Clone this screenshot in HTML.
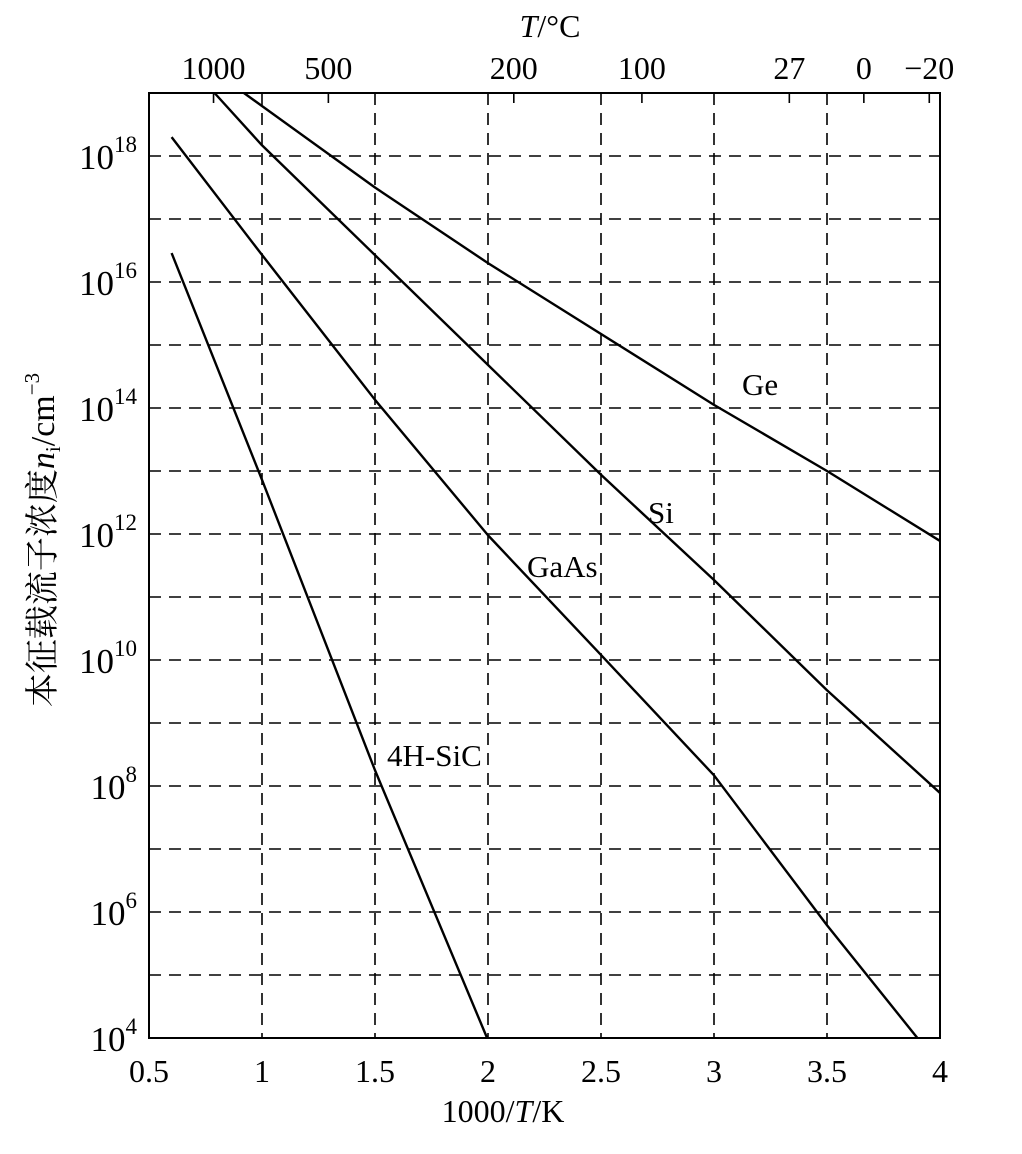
<!DOCTYPE html>
<html><head><meta charset="utf-8"><style>
html,body{margin:0;padding:0;background:#fff;}
svg{display:block;font-family:"Liberation Serif","Noto Serif CJK SC",serif;}
</style></head><body>
<svg id="chart" width="1022" height="1154" viewBox="0 0 1022 1154" xmlns="http://www.w3.org/2000/svg">
<g id="grid"></g>
<g id="series"></g>
<g id="axes"></g>
<text x="550" y="37" font-size="32" text-anchor="middle"><tspan font-style="italic">T</tspan>/°C</text>
<text x="503" y="1122" font-size="32" text-anchor="middle">1000/<tspan font-style="italic">T</tspan>/K</text>
<text transform="translate(54,540) rotate(-90)" font-size="34" text-anchor="middle">本征载流子浓度<tspan font-style="italic">n</tspan><tspan font-size="21" dy="6">i</tspan><tspan dy="-6">/cm</tspan><tspan font-size="21" dy="-15">−3</tspan></text>
<text x="742" y="395" font-size="31">Ge</text>
<text x="648" y="523" font-size="31">Si</text>
<text x="527" y="577" font-size="31">GaAs</text>
<text x="387" y="766" font-size="31">4H-SiC</text>
</svg>
<script>
const seriesNames = ["Ge","Si","GaAs","4H-SiC"];
const seriesX = [[0.92,1.5,2.0,3.0,3.5,4.0],[0.79,1.0,2.5,3.0,3.5,4.0],[0.60,1.0,1.5,2.0,2.5,3.0,3.5,3.90],[0.60,1.0,1.5,1.996]];
const seriesLogN = [[19,17.5,16.3,14.05,13.0,11.89],[19,18.17,12.94,11.27,9.52,7.89],[18.3,16.43,14.13,11.98,10.08,8.17,5.79,4],[16.46,12.86,8.25,4]];
const xTicks = [0.5,1,1.5,2,2.5,3,3.5,4];
const xTickLabels = ["0.5","1","1.5","2","2.5","3","3.5","4"];
const yTicks = [4,6,8,10,12,14,16,18];
const topTemps = [1000,500,200,100,27,0,-20];
const topLabels = ["1000","500","200","100","27","0","−20"];

const L=149,R=940,T=93,B=1038;
const xs = v => L + (v-0.5)/(4-0.5)*(R-L);
const ys = v => B - (v-4)/(19-4)*(B-T);
const NS="http://www.w3.org/2000/svg";
function mk(tag,attrs,parent){const e=document.createElementNS(NS,tag);for(const k in attrs)e.setAttribute(k,attrs[k]);parent.appendChild(e);return e;}
const grid=document.getElementById('grid'), axes=document.getElementById('axes'), ser=document.getElementById('series');
for(let i=1;i<xTicks.length-1;i++){
  const l=mk('line',{x1:xs(xTicks[i]),x2:xs(xTicks[i]),y1:T,y2:B,stroke:'#000','stroke-width':1.6,'stroke-dasharray':'12 8'},grid);
  
  
}
for(let d=5;d<19;d++){
  const l=mk('line',{x1:L,x2:R,y1:ys(d),y2:ys(d),stroke:'#000','stroke-width':1.6,'stroke-dasharray':'12 8'},grid);
  
  
}
const frame=mk('rect',{x:L,y:T,width:R-L,height:B-T,fill:'none',stroke:'#000','stroke-width':2},axes);


xTicks.forEach((v,i)=>{
  const t=mk('text',{x:xs(v),y:B+44,'font-size':32,'text-anchor':'middle'},axes);
  t.textContent=xTickLabels[i];
  
  
});
yTicks.forEach(v=>{
  const t=mk('text',{x:L-12,y:ys(v)+13,'font-size':35,'text-anchor':'end'},axes);
  t.innerHTML='10<tspan font-size="23" dy="-17">'+v+'</tspan>';
  
  
});
topTemps.forEach((c,i)=>{
  const x=xs(1000/(c+273));
  const tk=mk('line',{x1:x,x2:x,y1:T,y2:T+10,stroke:'#000','stroke-width':1.6},axes);
  
  
  const t=mk('text',{x:x,y:79,'font-size':32,'text-anchor':'middle'},axes);
  t.textContent=topLabels[i];
  
  
});
seriesNames.forEach((n,i)=>{
  const pts=seriesX[i].map((x,j)=>xs(x)+','+ys(seriesLogN[i][j])).join(' ');
  const l=mk('polyline',{points:pts,fill:'none',stroke:'#000','stroke-width':2.4,'stroke-linejoin':'round'},ser);
  
  
});
</script>
</body></html>
